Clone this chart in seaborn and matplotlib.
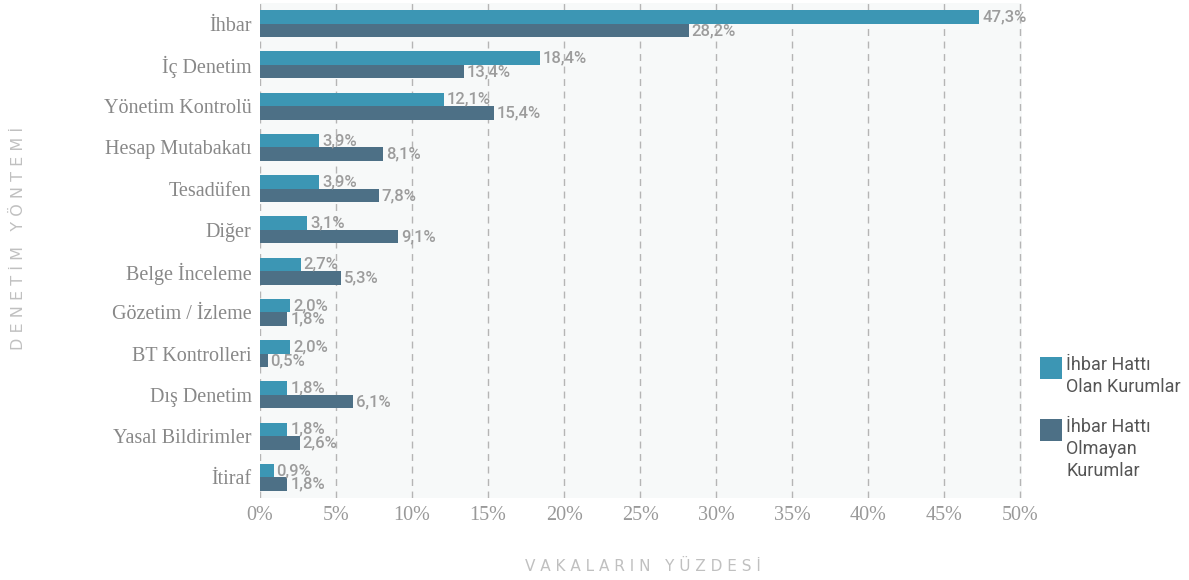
import matplotlib
matplotlib.use("Agg")
import matplotlib.pyplot as plt
from matplotlib.patches import Rectangle
import seaborn as sns
import pandas as pd
import numpy as np

categories = ["İhbar", "İç Denetim", "Yönetim Kontrolü", "Hesap Mutabakatı", "Tesadüfen",
              "Diğer", "Belge İnceleme", "Gözetim / İzleme", "BT Kontrolleri", "Dış Denetim",
              "Yasal Bildirimler", "İtiraf"]
with_hotline = [47.3, 18.4, 12.1, 3.9, 3.9, 3.1, 2.7, 2.0, 2.0, 1.8, 1.8, 0.9]
without_hotline = [28.2, 13.4, 15.4, 8.1, 7.8, 9.1, 5.3, 1.8, 0.5, 6.1, 2.6, 1.8]
series_names = ["İhbar Hattı\nOlan Kurumlar", "İhbar Hattı\nOlmayan\nKurumlar"]
xticks = [0, 5, 10, 15, 20, 25, 30, 35, 40, 45, 50]
xticklabels = ["0%", "5%", "10%", "15%", "20%", "25%", "30%", "35%", "40%", "45%", "50%"]

df = pd.DataFrame({
    "cat": categories * 2,
    "val": with_hotline + without_hotline,
    "series": [series_names[0]] * len(categories) + [series_names[1]] * len(categories),
})

sns.set_theme(style="white")
plt.rcParams["font.family"] = ["DejaVu Sans"]

W, H = 1189, 580
fig = plt.figure(figsize=(W / 100, H / 100), dpi=100)
ax = fig.add_axes([260 / W, 1 - 498 / H, (1022 - 260) / W, (498 - 3) / H])
ax.set_facecolor("#f7f9f9")

palette = ["#3c96b4", "#4d7086"]
sns.barplot(data=df, y="cat", x="val", hue="series", orient="h", palette=palette,
            width=0.66, ax=ax, saturation=1, order=categories, hue_order=series_names,
            linewidth=0, edgecolor="none", legend=False)

for cont in ax.containers:
    labels = [f"{b.get_width():.1f}%".replace(".", ",") for b in cont]
    ax.bar_label(cont, labels=labels, padding=2, color="#9c9c9c", fontsize=12,
                 family="Roboto", fontweight="medium")

ax.set_xlim(0, 50.1)
ax.set_ylim(11.5, -0.5)
ax.set_xticks(xticks)
ax.set_xticklabels(xticklabels, family="Liberation Serif", fontsize=14.5, color="#999999")
for lab in ax.get_yticklabels():
    lab.set_family("Liberation Serif")
    lab.set_fontsize(14.5)
    lab.set_color("#888888")
ax.tick_params(axis="y", length=0, pad=6)
ax.tick_params(axis="x", length=0, pad=6)
for x in xticks:
    ax.axvline(x, color="#b5b5b5", lw=1, ls=(0, (5, 4)), zorder=0)
ax.set_axisbelow(True)
for s in ax.spines.values():
    s.set_visible(False)
ax.set_xlabel("")
ax.set_ylabel("")

# legend (patch aligned with first text line, as in the reference)
legend_tops = [357, 419]
for name, color, top in zip(series_names, palette, legend_tops):
    fig.patches.append(Rectangle((1040 / W, 1 - (top + 22) / H), 22 / W, 22 / H,
                                 transform=fig.transFigure, facecolor=color, edgecolor="none"))
    fig.text(1066 / W, 1 - (top - 1) / H, name, ha="left", va="top", family="Roboto",
             fontsize=13, color="#555555", linespacing=1.27)

fig.text(643 / W, 1 - 566 / H, "V A K A L A R I N   Y Ü Z D E S İ", ha="center", va="center",
         fontsize=11, color="#c0c0c0", family="DejaVu Sans")
fig.text(18 / W, 1 - 238 / H, "D E N E T İ M   Y Ö N T E M İ", ha="center", va="center",
         rotation=90, fontsize=11.5, color="#c0c0c0", family="DejaVu Sans")

fig.savefig("out.png", dpi=100)
